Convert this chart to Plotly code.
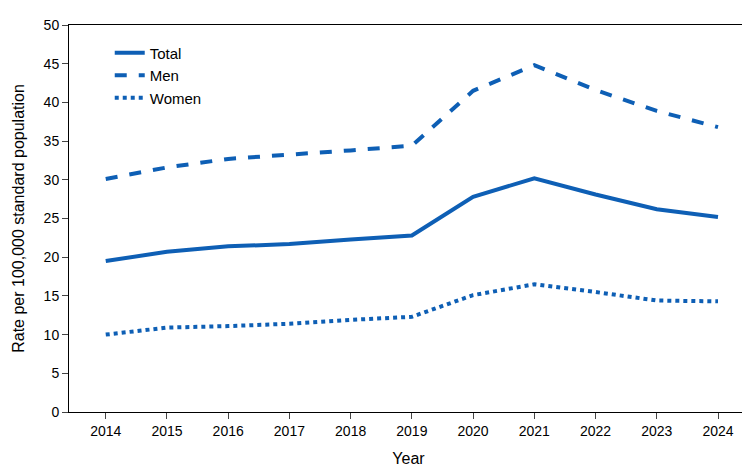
import plotly.graph_objects as go

years = [2014, 2015, 2016, 2017, 2018, 2019, 2020, 2021, 2022, 2023, 2024]
total = [19.5, 20.7, 21.4, 21.7, 22.3, 22.8, 27.8, 30.2, 28.1, 26.2, 25.2]
men = [30.1, 31.6, 32.7, 33.2, 33.8, 34.4, 41.5, 44.8, 41.6, 38.9, 36.8]
women = [10.0, 10.9, 11.1, 11.4, 11.9, 12.3, 15.1, 16.5, 15.5, 14.4, 14.3]

blue = "#0e5fb5"
fig = go.Figure()
fig.add_trace(go.Scatter(x=years, y=total, name="Total", mode="lines",
                         line=dict(color=blue, width=4)))
fig.add_trace(go.Scatter(x=years, y=men, name="Men", mode="lines",
                         line=dict(color=blue, width=4, dash="dash")))
fig.add_trace(go.Scatter(x=years, y=women, name="Women", mode="lines",
                         line=dict(color=blue, width=4, dash="dot")))

fig.update_layout(
    width=750, height=468,
    margin=dict(l=58, r=9, t=14, b=64),
    plot_bgcolor="white", paper_bgcolor="white",
    font=dict(family="Liberation Sans, Arial", size=14, color="black"),
    legend=dict(x=0.06, y=0.97, xanchor="left", yanchor="top",
                bgcolor="rgba(0,0,0,0)", font=dict(size=15)),
    xaxis=dict(title=dict(text="Year", font=dict(size=16)), range=[2013.4, 2024.49],
               tickvals=years, showline=True, linecolor="black", mirror=True,
               ticks="outside", ticklen=6, showgrid=False),
    yaxis=dict(title=dict(text="Rate per 100,000 standard population", font=dict(size=16)),
               range=[0, 50], dtick=5, showline=True, linecolor="black", mirror=True,
               ticks="outside", ticklen=6, showgrid=False, zeroline=False),
)
fig.write_html("out.html")
